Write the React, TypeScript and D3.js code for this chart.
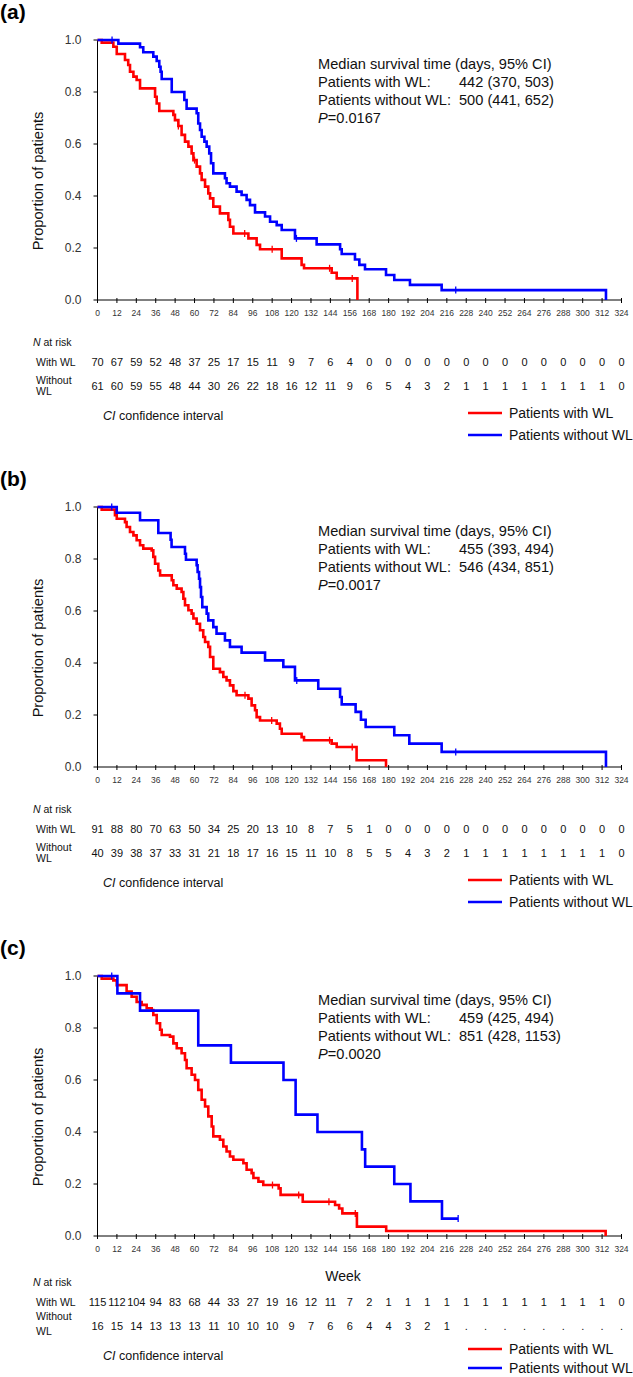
import * as d3 from 'd3';

const W = 633;
const H = 1377;
const X_LEFT = 97.5;
const X_RIGHT = 621.5;
const PLOT_H = 260;
const RED = '#ff0000';
const BLUE = '#0000ff';
const SANS = "'Liberation Sans', Arial, sans-serif";

const weekTicks = [0, 12, 24, 36, 48, 60, 72, 84, 96, 108, 120, 132, 144, 156, 168, 180, 192, 204, 216, 228, 240, 252, 264, 276, 288, 300, 312, 324];
const propTicks = [0, 0.2, 0.4, 0.6, 0.8, 1.0];

// ---- panel (a)
const aRedT = [2.6, 9.8, 11.9, 17, 19, 20.1, 22.2, 24.2, 26.3, 35.6, 36.6, 38.2, 46.9, 47.9, 50, 52, 54.1, 56.2, 58.2, 59.3, 61.3, 63.4, 64.4, 66.5, 68.5, 69.6, 71.6, 75.7, 80.9, 81.9, 84, 93.3, 98.4, 100.5, 113.9, 126.2, 127.7, 144.8, 147.9, 160.7];
const aRedS = [0.99, 0.974, 0.946, 0.923, 0.904, 0.878, 0.859, 0.846, 0.814, 0.782, 0.756, 0.727, 0.712, 0.692, 0.669, 0.635, 0.609, 0.59, 0.564, 0.538, 0.513, 0.487, 0.462, 0.436, 0.41, 0.391, 0.359, 0.333, 0.308, 0.282, 0.256, 0.237, 0.212, 0.195, 0.16, 0.135, 0.122, 0.105, 0.083, 0];
const aRedCens = [50, 60, 91, 108, 143.5, 157.5];
const aBlueT = [12.9, 26.3, 28.3, 34.5, 36.6, 38.2, 39, 39.7, 45.9, 53.7, 55.1, 61.3, 62.3, 63.4, 64.4, 66.1, 67.5, 69.1, 70.2, 71.6, 78.8, 79.8, 81.9, 86, 89.1, 92.2, 94.3, 97.4, 103.6, 106.7, 110.8, 113.9, 122.1, 135.5, 150, 151, 159.2, 161.9, 165.4, 178.4, 183.5, 193.2, 212.8, 314.4];
const aBlueS = [0.986, 0.972, 0.953, 0.936, 0.919, 0.897, 0.878, 0.85, 0.8, 0.769, 0.736, 0.718, 0.679, 0.654, 0.628, 0.609, 0.59, 0.564, 0.526, 0.487, 0.468, 0.449, 0.436, 0.417, 0.404, 0.385, 0.365, 0.337, 0.321, 0.301, 0.288, 0.269, 0.237, 0.214, 0.195, 0.177, 0.156, 0.135, 0.118, 0.096, 0.077, 0.058, 0.038, 0];
const aBlueCens = [9, 123, 221.5];
const aRiskWith = ['70', '67', '59', '52', '48', '37', '25', '17', '15', '11', '9', '7', '6', '4', '0', '0', '0', '0', '0', '0', '0', '0', '0', '0', '0', '0', '0', '0'];
const aRiskWithout = ['61', '60', '59', '55', '48', '44', '30', '26', '22', '18', '16', '12', '11', '9', '6', '5', '4', '3', '2', '1', '1', '1', '1', '1', '1', '1', '1', '0'];
const aStats = ['442 (370, 503)', '500 (441, 652)', '0.0167'];

// ---- panel (b)
const bRedT = [2.6, 10.8, 11.9, 17, 18, 20.1, 22.2, 24.2, 26.3, 28.3, 33.5, 34.5, 35.6, 37.6, 38.7, 45.9, 46.9, 49, 52, 53.1, 54.1, 56.2, 58.2, 59.3, 61.3, 63.4, 65.4, 66.5, 68.5, 69.6, 71.6, 75.7, 77.8, 79.8, 81.9, 84, 86, 93.3, 95.3, 97.4, 98.4, 100.5, 110.8, 112.8, 113.9, 126.2, 127.7, 144.8, 147.9, 160.2, 178.4];
const bRedS = [0.99, 0.968, 0.955, 0.942, 0.923, 0.904, 0.891, 0.872, 0.853, 0.84, 0.833, 0.808, 0.782, 0.756, 0.737, 0.718, 0.699, 0.686, 0.673, 0.647, 0.622, 0.603, 0.59, 0.571, 0.551, 0.526, 0.5, 0.481, 0.462, 0.423, 0.378, 0.365, 0.346, 0.333, 0.314, 0.292, 0.276, 0.263, 0.237, 0.218, 0.192, 0.179, 0.167, 0.147, 0.128, 0.115, 0.103, 0.09, 0.077, 0.026, 0];
const bRedCens = [91.2, 107.7, 143.5, 157.5];
const bBlueT = [11.9, 26.3, 37.6, 45.2, 45.8, 54.1, 54.7, 61.3, 61.9, 62.8, 63.4, 64, 64.8, 67.5, 68.5, 71.6, 73.6, 78.8, 81.9, 89.1, 103.6, 114.9, 122.1, 136.5, 150, 151, 159.6, 162.9, 165.8, 183.5, 192.8, 212.8, 314.4];
const bBlueS = [0.978, 0.949, 0.9, 0.874, 0.846, 0.82, 0.797, 0.776, 0.75, 0.724, 0.692, 0.654, 0.615, 0.59, 0.564, 0.538, 0.513, 0.487, 0.462, 0.44, 0.41, 0.385, 0.333, 0.301, 0.269, 0.241, 0.212, 0.182, 0.154, 0.122, 0.09, 0.058, 0];
const bBlueCens = [8.8, 123.2, 221.5];
const bRiskWith = ['91', '88', '80', '70', '63', '50', '34', '25', '20', '13', '10', '8', '7', '5', '1', '0', '0', '0', '0', '0', '0', '0', '0', '0', '0', '0', '0', '0'];
const bRiskWithout = ['40', '39', '38', '37', '33', '31', '21', '18', '17', '16', '15', '11', '10', '8', '5', '5', '4', '3', '2', '1', '1', '1', '1', '1', '1', '1', '1', '0'];
const bStats = ['455 (393, 494)', '546 (434, 851)', '0.0017'];

// ---- panel (c)
const cRedT = [2.6, 9.8, 11.9, 18, 21.1, 24.2, 27.3, 30.4, 33.5, 34.5, 36.6, 38.7, 39.7, 44.8, 46.9, 49, 52, 54.1, 55.1, 58.2, 60.3, 62.3, 64.4, 66.5, 68.5, 70.6, 71.6, 75.7, 77.8, 79.8, 81.9, 84, 90.2, 92.2, 95.3, 96.4, 99.5, 102.5, 112, 113.2, 126.9, 146.9, 149.4, 151.4, 160.4, 178.5, 314.2];
const cRedS = [0.99, 0.983, 0.965, 0.94, 0.92, 0.9, 0.889, 0.876, 0.869, 0.85, 0.818, 0.793, 0.773, 0.767, 0.741, 0.722, 0.703, 0.677, 0.645, 0.62, 0.6, 0.562, 0.524, 0.498, 0.46, 0.421, 0.383, 0.37, 0.344, 0.325, 0.306, 0.293, 0.28, 0.255, 0.242, 0.223, 0.209, 0.196, 0.183, 0.158, 0.132, 0.119, 0.106, 0.087, 0.036, 0.019, 0];
const cRedCens = [108.2, 124.4, 143.1, 159.4];
const cBlueT = [12.3, 26.3, 62.3, 82.5, 115, 122.5, 136, 163.5, 165.5, 183.5, 193.5, 213, 223];
const cBlueS = [0.933, 0.867, 0.733, 0.667, 0.6, 0.467, 0.4, 0.333, 0.267, 0.2, 0.133, 0.067, 0.067];
const cBlueCens = [8.8, 223];
const cRiskWith = ['115', '112', '104', '94', '83', '68', '44', '33', '27', '19', '16', '12', '11', '7', '2', '1', '1', '1', '1', '1', '1', '1', '1', '1', '1', '1', '1', '0'];
const cRiskWithout = ['16', '15', '14', '13', '13', '13', '11', '10', '10', '10', '9', '7', '6', '6', '4', '4', '3', '2', '1', '.', '.', '.', '.', '.', '.', '.', '.', '.'];
const cStats = ['459 (425, 494)', '851 (428, 1153)', '0.0020'];

const panels = [
  { label: '(a)', top: 40, redT: aRedT, redS: aRedS, redC: aRedCens, blueT: aBlueT, blueS: aBlueS, blueC: aBlueCens, withRisk: aRiskWith, withoutRisk: aRiskWithout, stats: aStats, week: false },
  { label: '(b)', top: 507, redT: bRedT, redS: bRedS, redC: bRedCens, blueT: bBlueT, blueS: bBlueS, blueC: bBlueCens, withRisk: bRiskWith, withoutRisk: bRiskWithout, stats: bStats, week: false },
  { label: '(c)', top: 976, redT: cRedT, redS: cRedS, redC: cRedCens, blueT: cBlueT, blueS: cBlueS, blueC: cBlueCens, withRisk: cRiskWith, withoutRisk: cRiskWithout, stats: cStats, week: true },
];

const x = d3.scaleLinear().domain([0, 324]).range([X_LEFT, X_RIGHT]);

function survAt(ts: number[], ss: number[], t: number) {
  let s = 1;
  ts.forEach((ti, i) => { if (ti <= t) s = ss[i]; });
  return s;
}

function KMPanel({ p }: { p: any }) {
  const y = d3.scaleLinear().domain([0, 1]).range([p.top + PLOT_H, p.top]);
  const y0 = p.top + PLOT_H;
  const line = d3.line<[number, number]>()
    .x(d => x(d[0]))
    .y(d => y(d[1]))
    .curve(d3.curveStepAfter);
  const pts = (ts: number[], ss: number[]) =>
    [[0, 1] as [number, number], ...ts.map((t, i) => [t, ss[i]] as [number, number])];

  // table rows shift a bit when the "Week" title is there
  const dt = p.week ? 4 : 0;
  // last legend row of the bottom panel sits right at the page edge
  const leg2 = Math.min(y0 + 140, H - 4);

  return (
    <g>
      <text x={0} y={p.top - 21} fontFamily={SANS} fontWeight="bold" fontSize={21}>{p.label}</text>

      {/* y axis */}
      <line x1={X_LEFT} x2={X_LEFT} y1={p.top} y2={y0} stroke="#000" strokeWidth={1} />
      {propTicks.map(v => (
        <g key={v}>
          <line x1={X_LEFT - 4} x2={X_LEFT} y1={y(v)} y2={y(v)} stroke="#000" strokeWidth={1} />
          <text x={X_LEFT - 16} y={y(v) + 4.3} textAnchor="end" fontFamily={SANS} fontSize={12} fill="#333">{v.toFixed(1)}</text>
        </g>
      ))}
      <text transform={`translate(43,${p.top + 141}) rotate(-90)`} textAnchor="middle" fontFamily={SANS} fontSize={14.6} fill="#111">Proportion of patients</text>

      {/* x axis */}
      <line x1={X_LEFT} x2={X_RIGHT} y1={y0} y2={y0} stroke="#000" strokeWidth={1} />
      {weekTicks.map(t => (
        <g key={t}>
          <line x1={x(t)} x2={x(t)} y1={y0 - 2} y2={y0 + 3} stroke="#000" strokeWidth={1} />
          <text x={x(t)} y={y0 + 16} textAnchor="middle" fontFamily={SANS} fontSize={8.5} fill="#333">{t}</text>
        </g>
      ))}
      {p.week && <text x={343} y={y0 + 45} textAnchor="middle" fontFamily={SANS} fontSize={14} fill="#111">Week</text>}

      {/* curves */}
      <path d={line(pts(p.redT, p.redS)) || ''} fill="none" stroke={RED} strokeWidth={2.6} />
      {p.redC.map((c: number) => (
        <line key={'r' + c} x1={x(c)} x2={x(c)} y1={y(survAt(p.redT, p.redS, c)) - 3.5} y2={y(survAt(p.redT, p.redS, c)) + 3.5} stroke={RED} strokeWidth={1.3} />
      ))}
      <path d={line(pts(p.blueT, p.blueS)) || ''} fill="none" stroke={BLUE} strokeWidth={2.6} />
      {p.blueC.map((c: number) => (
        <line key={'b' + c} x1={x(c)} x2={x(c)} y1={y(survAt(p.blueT, p.blueS, c)) - 3.5} y2={y(survAt(p.blueT, p.blueS, c)) + 3.5} stroke={BLUE} strokeWidth={1.3} />
      ))}

      {/* median survival annotation */}
      <g fontFamily={SANS} fontSize={14.6} fill="#111">
        <text x={318} y={p.top + 29}>Median survival time (days, 95% CI)</text>
        <text x={318} y={p.top + 47}>Patients with WL:</text>
        <text x={459} y={p.top + 47}>{p.stats[0]}</text>
        <text x={318} y={p.top + 65}>Patients without WL:</text>
        <text x={459} y={p.top + 65}>{p.stats[1]}</text>
        <text x={318} y={p.top + 83}><tspan fontStyle="italic">P</tspan>={p.stats[2]}</text>
      </g>

      {/* number at risk */}
      <g fontFamily={SANS} fill="#111">
        <text x={33} y={y0 + 46 + dt} fontSize={10.5}><tspan fontStyle="italic">N</tspan> at risk</text>
        <text x={36} y={y0 + 66 + dt} fontSize={10.5}>With WL</text>
        <text x={36} y={y0 + 84} fontSize={10.5}>Without</text>
        <text x={36} y={y0 + 95 + dt} fontSize={10.5}>WL</text>
        {p.withRisk.map((v: string, i: number) => (
          <text key={'w' + i} x={x(weekTicks[i])} y={y0 + 66 + dt} textAnchor="middle" fontSize={11}>{v}</text>
        ))}
        {p.withoutRisk.map((v: string, i: number) => (
          <text key={'o' + i} x={x(weekTicks[i])} y={y0 + 90 + dt} textAnchor="middle" fontSize={11}>{v}</text>
        ))}
        <text x={103} y={y0 + 120 + dt} fontSize={12.5}><tspan fontStyle="italic">CI</tspan> confidence interval</text>
      </g>

      {/* legend */}
      <line x1={468} x2={502} y1={y0 + 113} y2={y0 + 113} stroke={RED} strokeWidth={2.6} />
      <text x={509} y={y0 + 118} fontFamily={SANS} fontSize={14} fill="#111">Patients with WL</text>
      <line x1={468} x2={502} y1={leg2 - 5} y2={leg2 - 5} stroke={BLUE} strokeWidth={2.6} />
      <text x={509} y={leg2} fontFamily={SANS} fontSize={14} fill="#111">Patients without WL</text>
    </g>
  );
}

export default function App() {
  return (
    <svg width={W} height={H} viewBox={`0 0 ${W} ${H}`} style={{ position: 'absolute', left: 0, top: 0, background: '#fff' }}>
      <rect width={W} height={H} fill="#fff" />
      {panels.map(p => <KMPanel key={p.label} p={p} />)}
    </svg>
  );
}
